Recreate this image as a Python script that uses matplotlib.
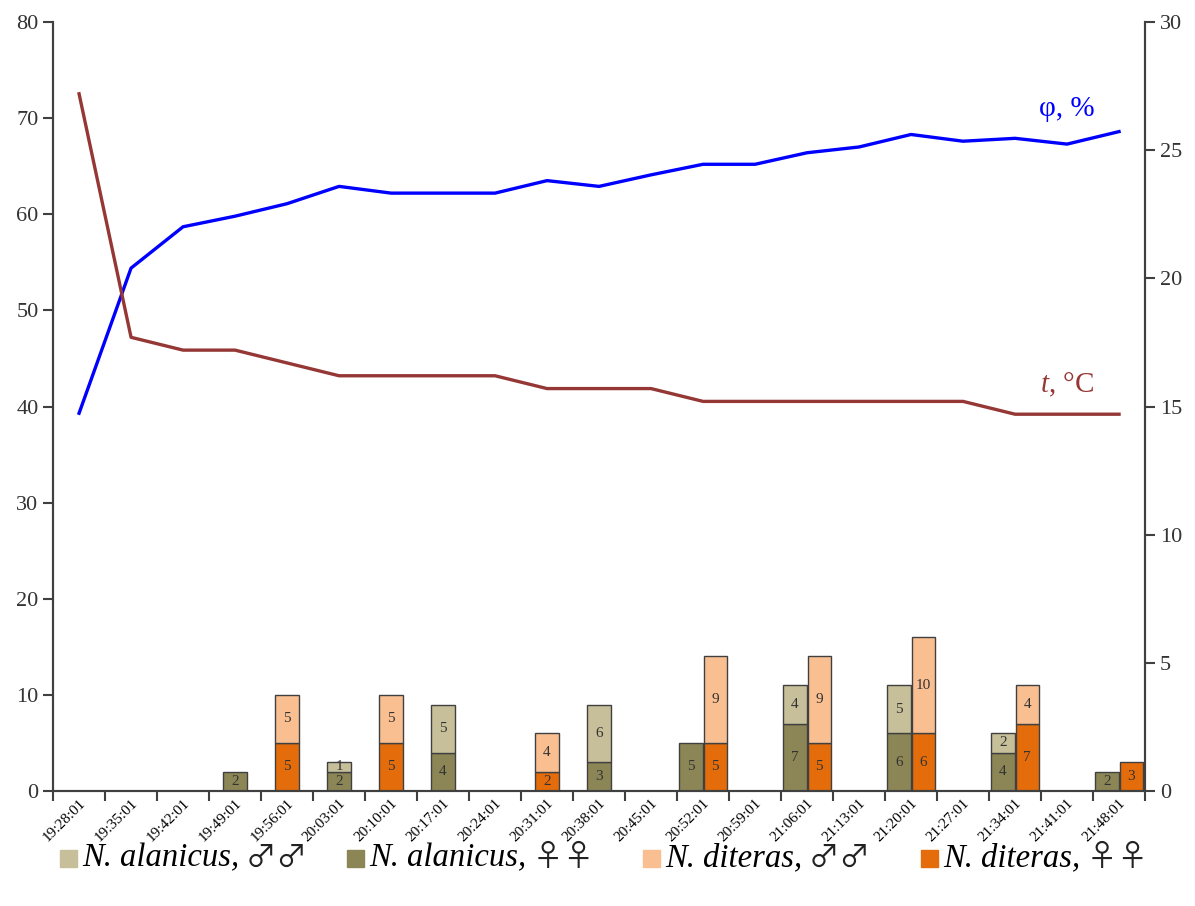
import numpy as np
import matplotlib
matplotlib.use("Agg")
from matplotlib import pyplot as plt
from matplotlib.patches import Rectangle

plt.rcParams['font.family'] = ['Liberation Serif', 'DejaVu Serif']
plt.rcParams['mathtext.fontset'] = 'custom'
plt.rcParams['mathtext.rm'] = 'Liberation Serif'
plt.rcParams['mathtext.it'] = 'Liberation Serif:italic'

times = ['19:28:01', '19:35:01', '19:42:01', '19:49:01', '19:56:01', '20:03:01',
         '20:10:01', '20:17:01', '20:24:01', '20:31:01', '20:38:01', '20:45:01',
         '20:52:01', '20:59:01', '21:06:01', '21:13:01', '21:20:01', '21:27:01',
         '21:34:01', '21:41:01', '21:48:01']

# relative humidity, % (left axis)
phi = [39.3, 54.4, 58.7, 59.8, 61.1, 62.9, 62.2, 62.2, 62.2, 63.5, 62.9,
       64.1, 65.2, 65.2, 66.4, 67.0, 68.3, 67.6, 67.9, 67.3, 68.6]
# temperature, C (right axis)
temp = [27.2, 17.7, 17.2, 17.2, 16.7, 16.2, 16.2, 16.2, 16.2, 15.7, 15.7,
        15.7, 15.2, 15.2, 15.2, 15.2, 15.2, 15.2, 14.7, 14.7, 14.7]

# catches
alan_f = [0, 0, 0, 2, 0, 2, 0, 4, 0, 0, 3, 0, 5, 0, 7, 0, 6, 0, 4, 0, 2]
alan_m = [0, 0, 0, 0, 0, 1, 0, 5, 0, 0, 6, 0, 0, 0, 4, 0, 5, 0, 2, 0, 0]
dit_f = [0, 0, 0, 0, 5, 0, 5, 0, 0, 2, 0, 0, 5, 0, 5, 0, 6, 0, 7, 0, 3]
dit_m = [0, 0, 0, 0, 5, 0, 5, 0, 0, 4, 0, 0, 9, 0, 9, 0, 10, 0, 4, 0, 0]

legend_names = ['N. alanicus', 'N. alanicus', 'N. diteras', 'N. diteras']
legend_sex = ['♂♂', '♀♀', '♂♂', '♀♀']

c_alan_m = '#c6bf99'
c_alan_f = '#8c8656'
c_dit_m = '#f9bf91'
c_dit_f = '#e46c0a'
c_axis = '#404040'

fig = plt.figure(figsize=(11.95, 9.06), dpi=100)
ax = fig.add_axes([0.0444, 0.1269, 0.9138, 0.8488])
ax2 = ax.twinx()

x = np.arange(len(times))
w = 0.45
for i in x:
    has_a = alan_f[i] + alan_m[i] > 0
    has_d = dit_f[i] + dit_m[i] > 0
    both = has_a and has_d
    xa = i - 0.235 if both else i
    xd = i + 0.235 if both else i
    if has_a:
        for bottom, h, c in [(0, alan_f[i], c_alan_f), (alan_f[i], alan_m[i], c_alan_m)]:
            if h:
                ax.bar(xa, h, w, bottom=bottom, color=c, edgecolor=c_axis, linewidth=1, zorder=2)
                ax.text(xa, bottom + h / 2, str(h), ha='center', va='center',
                        fontsize=11, color='#333333', zorder=3)
    if has_d:
        for bottom, h, c in [(0, dit_f[i], c_dit_f), (dit_f[i], dit_m[i], c_dit_m)]:
            if h:
                ax.bar(xd, h, w, bottom=bottom, color=c, edgecolor=c_axis, linewidth=1, zorder=2)
                ax.text(xd, bottom + h / 2, str(h), ha='center', va='center',
                        fontsize=11, color='#333333', zorder=3)

ax.plot(x, phi, color='#0000ff', lw=2.4, zorder=4)
ax2.plot(x, temp, color='#953735', lw=2.4, zorder=4)

ax.text(19.0, 70.9, 'φ, %', color='#0000ff', fontsize=21, ha='center', va='center')
ax2.text(19.0, 15.85, r'$\it{t}$, °C', color='#953735', fontsize=21, ha='center', va='center')

ax.set_xlim(-0.5, len(times) - 0.5)
ax.set_ylim(0, 80)
ax2.set_ylim(0, 30)
ax.set_yticks(np.arange(0, 81, 10))
ax2.set_yticks(np.arange(0, 31, 5))

ax.set_xticks(np.arange(-0.5, len(times), 1))
ax.set_xticklabels([])
ax.set_xticks(x, minor=True)
ax.set_xticklabels(times, minor=True, rotation=45, ha='right', rotation_mode='anchor', fontsize=11)
ax.tick_params(axis='x', which='minor', length=0, pad=4)
ax.tick_params(axis='x', which='major', length=7, width=1.5, color=c_axis)

for a in (ax, ax2):
    a.spines['top'].set_visible(False)
    for s in ('left', 'right', 'bottom'):
        a.spines[s].set_color(c_axis)
        a.spines[s].set_linewidth(1.5)
    a.tick_params(axis='y', labelsize=16, length=7, width=1.5, color=c_axis, labelcolor='#333333')

# legend drawn piece by piece so the sex symbols can use a bigger font
W, H = fig.get_size_inches() * fig.dpi
renderer = fig.canvas.get_renderer()
leg_colors = [c_alan_m, c_alan_f, c_dit_m, c_dit_f]
leg_x = [60, 347, 643, 921]
y_mid = 858
for x0, col, name, sex in zip(leg_x, leg_colors, legend_names, legend_sex):
    fig.patches.append(Rectangle((x0 / W, (H - y_mid - 9) / H), 17 / W, 17 / H,
                                 transform=fig.transFigure, color=col))
    t1 = fig.text((x0 + 22) / W, (H - y_mid) / H, name + ',', fontsize=23.5, style='italic',
                  va='center', ha='left', color='black')
    bb = t1.get_window_extent(renderer)
    fig.text(bb.x1 / W, (H - y_mid) / H, ' ' + sex, fontsize=22, va='center', ha='left',
             family=['Noto Sans CJK JP', 'DejaVu Sans'], color='#222222')

fig.savefig('out.png', dpi=100)
